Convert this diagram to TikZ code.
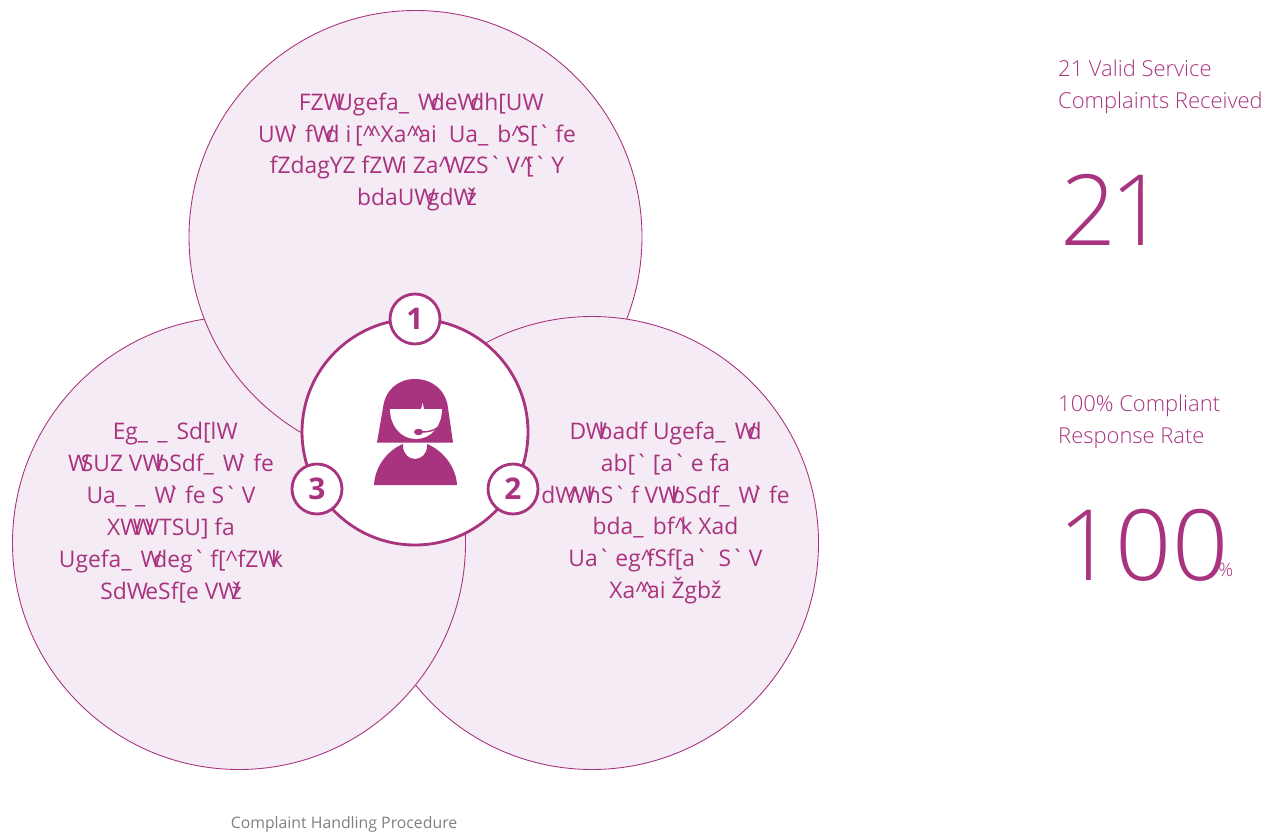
\documentclass[tikz,border=0pt]{standalone}
\usepackage{fontspec}
\setmainfont{Open Sans}
\newfontfamily\lightfont{Open Sans Light}
\definecolor{plum}{HTML}{A8337F}
\definecolor{petal}{HTML}{F5EBF4}
\newcommand{\Wk}{W\kern-.37em\relax}
\newcommand{\us}{\_\kern.4em\relax}
\newcommand{\ct}{\textasciicircum\kern-.28em\relax}
\newcommand{\gv}{\textasciigrave\kern.2em\relax}
\tikzset{
	petal/.style = {draw = plum, line width = 0.5pt, fill = petal},
	badge/.style = {circle, draw = plum, line width = 1.6pt, fill = white, minimum size = 1cm, inner sep = 0pt, text = plum, font = \fontsize{17}{20}\selectfont\bfseries},
	petaltext/.style = {align = center, text = plum, font = \fontsize{13}{18.2}\selectfont},
	sidetext/.style = {anchor = west, align = left, text = plum, font = \lightfont\fontsize{12.5}{18.4}\selectfont},
	bignum/.style = {anchor = base west, inner sep = 0pt, text = plum, font = \lightfont\fontsize{56}{60}\selectfont}
}
\begin{document}
\begin{tikzpicture}[x=0.02cm, y=-0.02cm]
	\useasboundingbox (0,0) rectangle (1273,831);
	\coordinate[](top) at (415.5,237);
	\coordinate[](left) at (239,543);
	\coordinate[](right) at (592,543);
	\coordinate[](hub) at (415,432);

	% each petal lies over the next one
	\draw[petal] (left) circle (226.5);
	\draw[petal] (top) circle (226.5);
	\draw[petal] (right) circle (226.5);
	\begin{scope}
		\clip (right) circle (227.5);
		\draw[petal] (left) circle (226.5);
	\end{scope}

	\draw[draw = plum, line width = 1.6pt, fill = white] (hub) circle (113);

	% person
	\fill[plum] (377,442.5) -- (383,408) .. controls (385,390) and (398,379) .. (415,379) .. controls (432,379) and (446,390) .. (448,408) -- (453,442.5) -- cycle;
	\fill[white] (390,409) -- (421,409) -- (422.7,403) -- (424,409) -- (442,409) .. controls (442,426) and (431,439) .. (416,439) .. controls (401,439) and (390,426) .. (390,409) -- cycle;
	\draw[plum, line width = 0.8pt] (437,428) .. controls (433,431) and (428,432) .. (420,432);
	\fill[plum] (418.5,432) ellipse (4.5 and 3.2);
	\fill[plum] (374,485) .. controls (375,466) and (388,450) .. (403,444) -- (403,446) .. controls (403,454) and (409,459) .. (415,459) .. controls (421,459) and (427,454) .. (427,446) -- (427,444) .. controls (442,450) and (456,466) .. (457,485) -- cycle;

	\node[badge] (one) at (415,319) {1};
	\node[badge] (two) at (513,489) {2};
	\node[badge] (three) at (317,489) {3};

	\node[petaltext] (toptext) at (417,152) {FZ\Wk{}Ugefa\us\Wk{}de\Wk{}dh[U\Wk\\U\Wk\gv f\Wk{}d i\,[\ct\ct{} Xa\ct\ct ai\ \ Ua\us b\ct S[\gv fe\\fZdagYZ fZ\Wk{} i Za\ct\Wk{} ZS\gv V\ct[\gv Y\\bdaU\Wk{}gd\Wk{}ž};
	\node[petaltext] (lefttext) at (171,513) {Eg\us\us Sd[l\Wk\\\Wk{}SUZ V\Wk{}bSdf\us\Wk\gv fe\\Ua\us\us\Wk\gv fe S\gv V\\X\Wk\Wk{}VTSU] fa\\Ugefa\us\Wk{}deg\gv f[\ct{} fZ\Wk{}k\\Sd\Wk{} eSf[e V\Wk{}ž};
	\node[petaltext] (righttext) at (665.5,513) {D\Wk{}badf Ugefa\us\Wk{}d\\ab[\gv [a\gv e fa\\d\Wk\ct\Wk{}hS\gv f V\Wk{}bSdf\us\Wk\gv fe\\bda\us bf\ct k Xad\\Ua\gv eg\ct fSf[a\gv{} S\gv V\\Xa\ct\ct ai Žgbž};

	\node[sidetext] (validlabel) at (1052,87) {21 Valid Service\\Complaints Received};
	\node[bignum] (validnum) at (1060,245) {2\kern-.06em 1};
	\node[sidetext] (ratelabel) at (1052,422) {100\% Compliant\\Response Rate};
	\node[bignum] (ratenum) at (1058,580) {1\kern.01em 0\kern.01em 0};
	\node[anchor = base west, inner sep = 0pt, text = plum, font = \lightfont\fontsize{10.5}{14}\selectfont] (ratepct) at (1218,576) {\%};

	\node[text = gray, font = \fontsize{9}{12}\selectfont] (caption) at (344,824.5) {Complaint Handling Procedure};
\end{tikzpicture}
\end{document}
